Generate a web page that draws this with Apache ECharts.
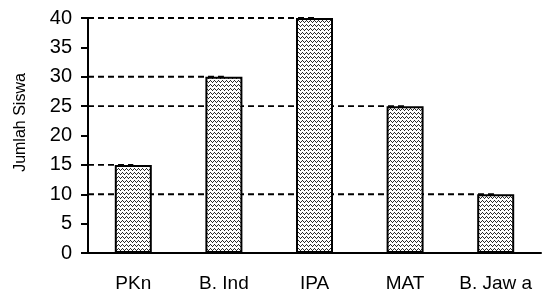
<!DOCTYPE html>
<html lang="id">

<head>
    <meta charset="UTF-8">
    <title>Jumlah Siswa</title>
    <script src="https://cdn.jsdelivr.net/npm/echarts@6/dist/echarts.min.js"></script>
    <style>
        body { margin: 0; background: #fff; }
    </style>
</head>

<body>
    <div id="main" style="width: 548px;height:297px;"></div>
</body>
<script>
    // data
    var mapel = ['PKn', 'B. Ind', 'IPA', 'MAT', 'B. Jawa'];
    var labelMapel = ['PKn', 'B. Ind', 'IPA', 'MAT', 'B. Jaw a'];
    var jumlahSiswa = [15, 30, 40, 25, 10];

    // pola zigzag untuk isi batang (piksel per piksel)
    var tile = document.createElement('canvas');
    tile.width = 4;
    tile.height = 4;
    var ctx = tile.getContext('2d');
    ctx.fillStyle = '#fff';
    ctx.fillRect(0, 0, 4, 4);
    ctx.fillStyle = '#2a2a2a';
    [[0, 2], [1, 1], [2, 0], [3, 1]].forEach(function (p) {
        ctx.fillRect(p[0], p[1], 1, 1);
    });

    // garis putus-putus: sumbu x bantu (nilai) 0..5, pusat kategori i = i + 0.5
    var seriGaris = mapel.map(function (m, i) {
        return {
            type: 'line',
            xAxisIndex: 1,
            z: 1,
            silent: true,
            symbol: 'none',
            lineStyle: { color: '#000', type: [6, 4], width: 1.8 },
            data: [[0, jumlahSiswa[i]], [i + 0.5, jumlahSiswa[i]]]
        };
    });

    var myChart = echarts.init(document.getElementById('main'));

    var option = {
        animation: false,
        grid: {
            left: 88,
            right: 7,
            top: 18,
            bottom: 44
        },
        xAxis: [{
            type: 'category',
            data: mapel,
            axisLine: { lineStyle: { color: '#000', width: 2 } },
            axisTick: { length: 5, lineStyle: { color: '#000', width: 2 } },
            axisLabel: {
                interval: 0,
                margin: 21,
                color: '#000',
                fontFamily: 'Liberation Sans',
                fontSize: 19,
                formatter: function (v, i) { return labelMapel[i]; }
            }
        }, {
            type: 'value',
            min: 0,
            max: mapel.length,
            show: false
        }],
        yAxis: {
            type: 'value',
            min: 0,
            max: 40,
            interval: 5,
            name: 'Jumlah Siswa',
            nameLocation: 'middle',
            nameGap: 59,
            nameTextStyle: {
                color: '#000',
                fontFamily: 'Liberation Sans',
                fontSize: 16,
                padding: [0, 0, 0, 26]
            },
            axisLine: { show: true, lineStyle: { color: '#000', width: 2 } },
            axisTick: { show: true, length: 7, lineStyle: { color: '#000', width: 2 } },
            axisLabel: {
                margin: 16,
                color: '#000',
                fontFamily: 'Liberation Sans',
                fontSize: 20
            },
            splitLine: { show: false }
        },
        series: [{
            type: 'bar',
            data: jumlahSiswa,
            barWidth: 37,
            z: 3,
            itemStyle: {
                color: { image: tile, repeat: 'repeat' },
                borderColor: '#000',
                borderWidth: 2
            }
        }].concat(seriGaris)
    };

    myChart.setOption(option);
</script>

</html>
